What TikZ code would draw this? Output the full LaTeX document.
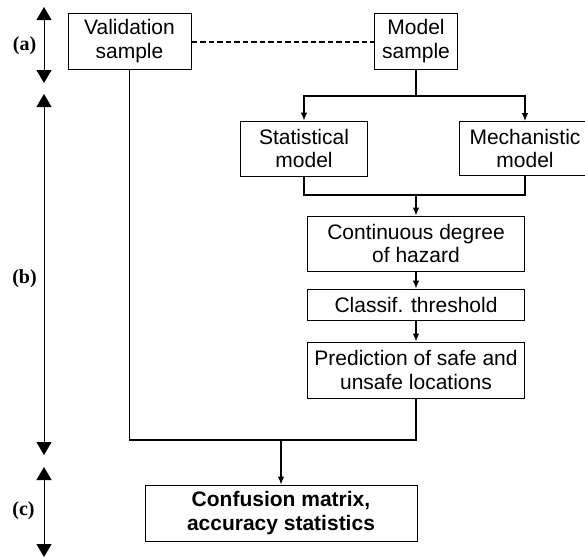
\documentclass[tikz,border=0pt]{standalone}
\usepackage{fontspec}
\setmainfont{Liberation Sans}
\newfontfamily\labfont{Liberation Serif}
\usetikzlibrary{arrows.meta}
\tikzset{
  box/.style={draw, line width=1pt, rectangle, inner sep=0pt, align=center,
    font=\fontsize{21}{23.5}\selectfont},
  conn/.style={line width=1.1pt, -{Latex[length=8pt,width=6.5pt]}},
  plain/.style={line width=1.1pt},
  phase/.style={line width=1pt, {Triangle[length=13pt,width=15pt]}-{Triangle[length=13pt,width=15pt]}},
  lab/.style={font=\labfont\bfseries\fontsize{20}{22}\selectfont, inner sep=0pt}
}
\begin{document}
\begin{tikzpicture}[x=1pt,y=-1pt]
\useasboundingbox (0,0) rectangle (585,557);
\clip (0,0) rectangle (585,557);
% boxes
\node[box, minimum width=123pt, minimum height=56pt] (val) at (129.5,41) {Validation\\sample};
\node[box, minimum width=83pt, minimum height=56pt] (mod) at (416,41) {Model\\sample};
\node[box, minimum width=127pt, minimum height=55pt] (stat) at (304,148.5) {Statistical\\model};
\node[box, minimum width=132pt, minimum height=54pt] (mech) at (525,148.5) {Mechanistic\\model};
\node[box, minimum width=217pt, minimum height=55pt] (cont) at (416,243.5) {Continuous degree\\of hazard};
\node[box, minimum width=217pt, minimum height=31pt] (cls) at (416,304.5) {Classif. threshold};
\node[box, minimum width=217pt, minimum height=56pt] (pred) at (416,370) {Prediction of safe and\\unsafe locations};
\node[box, minimum width=272pt, minimum height=56pt, font=\bfseries\fontsize{21}{23.5}\selectfont] (conf) at (281,513) {Confusion matrix,\\accuracy statistics};
% coordinates
\coordinate (split) at (416,96);
\coordinate (join) at (416,195);
\coordinate (mrg) at (281,440);
% connectors
\draw[plain, dash pattern=on 5.5pt off 3pt] (val.east |- 0,42) -- (mod.west |- 0,42);
\draw[plain] (mod.south) -- (split);
\draw[conn] (split) -| (stat.north);
\draw[conn] (split) -| (mech.north);
\draw[plain] (stat.south) |- (join);
\draw[plain] (mech.south) |- (join);
\draw[conn] (join) -- (cont.north);
\draw[conn] (cont.south) -- (cls.north);
\draw[conn] (cls.south) -- (pred.north);
\draw[plain] (pred.south) |- (mrg);
\draw[plain] (val.south) |- (mrg);
\draw[conn] (mrg) -- (conf.north);
% phase arrows
\coordinate (a1) at (44,7); \coordinate (a2) at (44,83);
\coordinate (b1) at (44,94); \coordinate (b2) at (44,455);
\coordinate (c1) at (44,467); \coordinate (c2) at (44,557);
\draw[phase] (a1) -- (a2);
\draw[phase] (b1) -- (b2);
\draw[phase] (c1) -- (c2);
\node[lab] (la) at (24.5,45.5) {(a)};
\node[lab] (lb) at (24.5,279) {(b)};
\node[lab] (lc) at (23.5,511) {(c)};
\end{tikzpicture}
\end{document}
